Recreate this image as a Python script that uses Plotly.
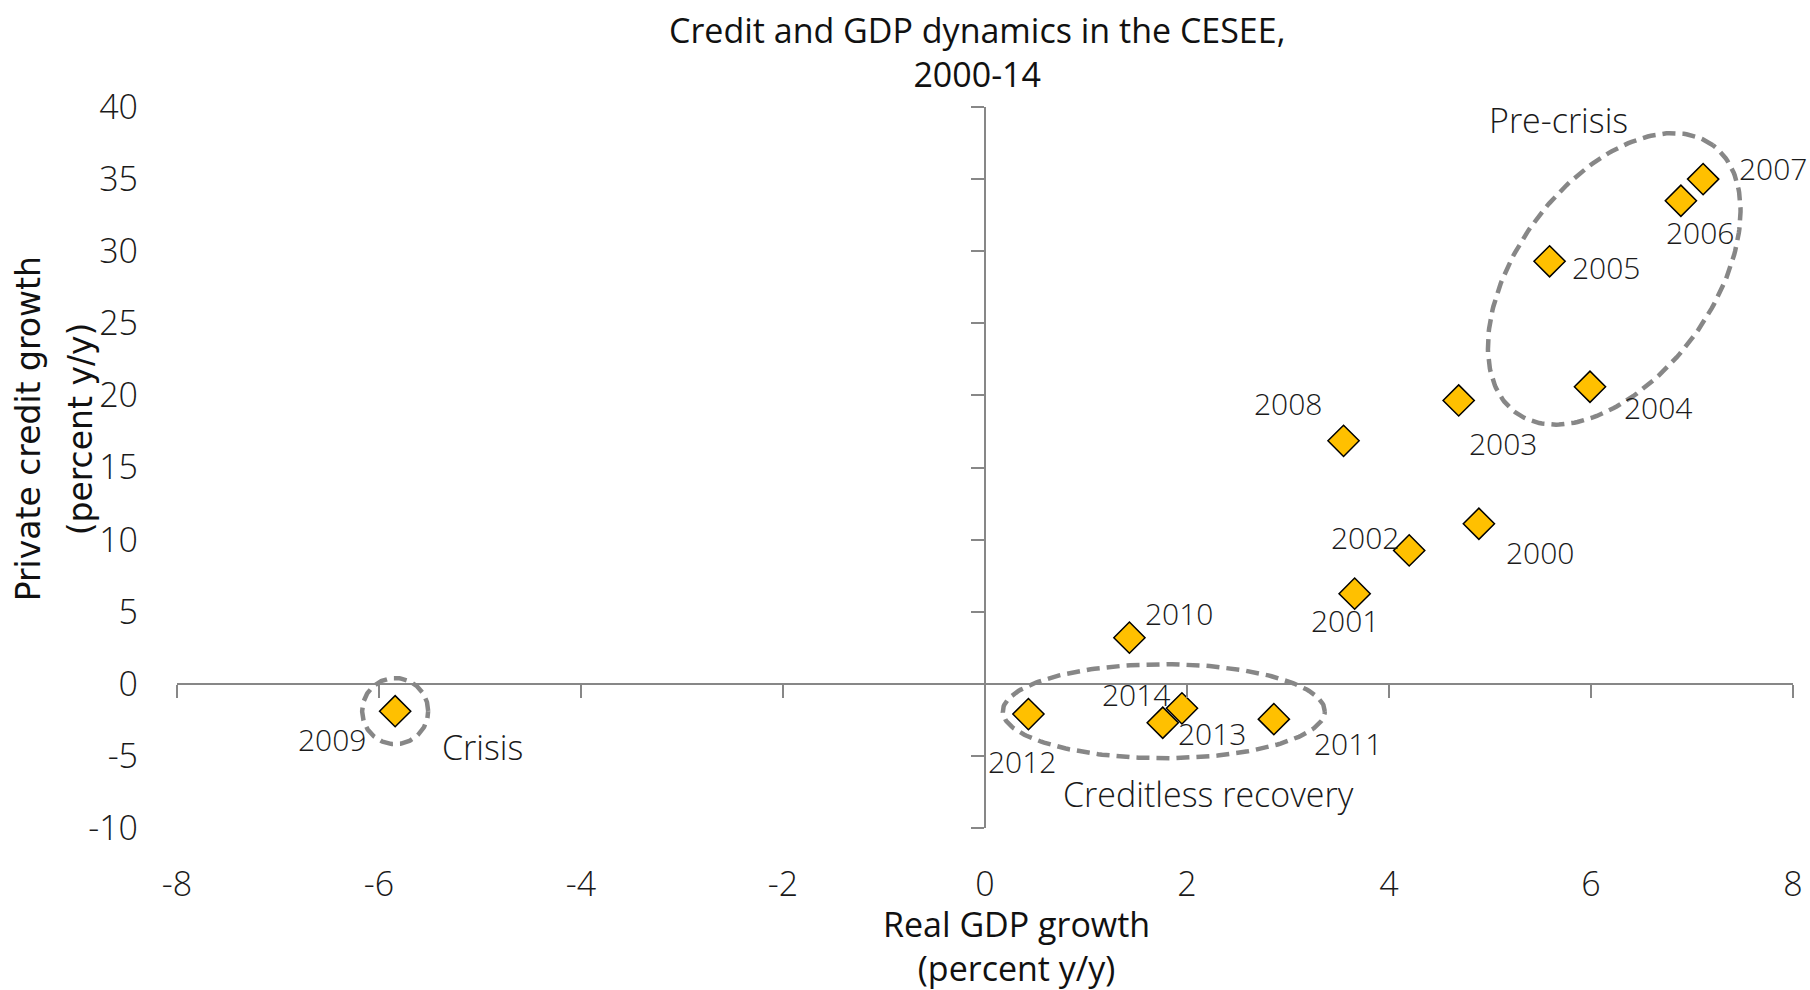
import numpy as np
import plotly.graph_objects as go

# ---------------- data ----------------
years = ["2000", "2001", "2002", "2003", "2004", "2005", "2006", "2007",
         "2008", "2009", "2010", "2011", "2012", "2013", "2014"]
gdp_growth = [4.89, 3.66, 4.20, 4.69, 5.99, 5.59, 6.89, 7.11,
              3.55, -5.84, 1.43, 2.86, 0.43, 1.76, 1.95]
credit_growth = [11.1, 6.25, 9.25, 19.65, 20.6, 29.3, 33.5, 35.0,
                 16.85, -1.9, 3.2, -2.45, -2.1, -2.7, -1.7]

x_ticks = [-8, -6, -4, -2, 0, 2, 4, 6, 8]
y_ticks = [-10, -5, 0, 5, 10, 15, 20, 25, 30, 35, 40]
x_tick_labels = ["-8", "-6", "-4", "-2", "0", "2", "4", "6", "8"]
y_tick_labels = ["-10", "-5", "0", "5", "10", "15", "20", "25", "30", "35", "40"]

# label offsets in pixels (right, down)
label_offsets = {
    "2000": (62, 29), "2001": (-9, 27), "2002": (-44, -13), "2003": (45, 43),
    "2004": (69, 21), "2005": (57, 6), "2006": (20, 32), "2007": (70, -11),
    "2008": (-55, -37), "2009": (-63, 28), "2010": (50, -24), "2011": (75, 24),
    "2012": (-6, 47), "2013": (50, 11), "2014": (-45, -14),
}

# group ellipses: name, centre (data), semi-axes (px), angle (deg), label pos (data)
groups = [
    ("Pre-crisis", 6.23, 28.08, 166, 98, 53.5, 5.68, 39.07),
    ("Creditless recovery", 1.77, -1.90, 161, 47, 0.0, 2.21, -7.62),
    ("Crisis", -5.84, -1.89, 33, 33, 0.0, -4.98, -4.35),
]

# ---------------- layout geometry ----------------
FIG_W, FIG_H = 1810, 990
L, R, T, B = 176.6, 1792.6, 107.4, 827.6
PW, PH = R - L, B - T
XR = [-8, 8]
YR = [-10, 40]
px_per_x = PW / (XR[1] - XR[0])
px_per_y = PH / (YR[1] - YR[0])


def paper_x(px):
    return (px - L) / PW


def paper_y(py):
    return (B - py) / PH


FONT = "Open Sans"
GRAY = "#878787"

fig = go.Figure()

# ellipses
for name, cx, cy, a, b, ang, lx, ly in groups:
    t = np.linspace(0, 2 * np.pi, 241)
    th = np.deg2rad(ang)
    dxp = a * np.cos(t) * np.cos(th) - b * np.sin(t) * np.sin(th)
    dyp = a * np.cos(t) * np.sin(th) + b * np.sin(t) * np.cos(th)
    fig.add_trace(go.Scatter(
        x=cx + dxp / px_per_x, y=cy + dyp / px_per_y, mode="lines",
        line=dict(color=GRAY, width=4.5, dash="13px,7px"),
        hoverinfo="skip", showlegend=False))
    fig.add_annotation(x=lx, y=ly, xref="x", yref="y", text=name,
                       showarrow=False, font=dict(family=FONT, size=34, color="#1a1a1a", weight=300))

# points
fig.add_trace(go.Scatter(
    x=gdp_growth, y=credit_growth, mode="markers", text=years,
    marker=dict(symbol="diamond", size=24, color="#FFC000",
                line=dict(color="#000000", width=1.5)),
    showlegend=False))

for yr, gx, cy in zip(years, gdp_growth, credit_growth):
    ox, oy = label_offsets[yr]
    fig.add_annotation(x=gx, y=cy, xref="x", yref="y", text=yr, showarrow=False,
                       xshift=ox, yshift=-oy,
                       font=dict(family=FONT, size=30, color="#1a1a1a", weight=300))

# invisible trace to create the zero-crossing axes
fig.add_trace(go.Scatter(x=gdp_growth, y=credit_growth, xaxis="x2", yaxis="y2",
                         mode="markers", marker=dict(opacity=0),
                         hoverinfo="skip", showlegend=False))

tickfont = dict(family=FONT, size=34, color="#1a1a1a", weight=300)

fig.update_layout(
    width=FIG_W, height=FIG_H,
    margin=dict(l=L, r=FIG_W - R, t=T, b=FIG_H - B, autoexpand=False),
    paper_bgcolor="white", plot_bgcolor="white",
    font=dict(family=FONT, color="#1a1a1a"),
    xaxis=dict(range=XR, tickvals=x_ticks, ticktext=x_tick_labels,
               showgrid=False, zeroline=False,
               showline=False, ticks="", tickfont=tickfont, ticklabelstandoff=33,
               fixedrange=True),
    yaxis=dict(range=YR, tickvals=y_ticks, ticktext=y_tick_labels,
               showgrid=False, zeroline=False,
               showline=False, ticks="", tickfont=tickfont, ticklabelstandoff=38,
               fixedrange=True),
    xaxis2=dict(range=XR, tickvals=x_ticks, overlaying="x", anchor="free",
                position=(0 - YR[0]) / (YR[1] - YR[0]), side="bottom",
                showline=True, linecolor=GRAY, linewidth=2,
                ticks="outside", ticklen=13, tickwidth=1.5, tickcolor=GRAY,
                showticklabels=False, showgrid=False, zeroline=False),
    yaxis2=dict(range=YR, tickvals=y_ticks, overlaying="y", anchor="free",
                position=(0 - XR[0]) / (XR[1] - XR[0]), side="left",
                showline=True, linecolor=GRAY, linewidth=2,
                ticks="outside", ticklen=13, tickwidth=1.5, tickcolor=GRAY,
                showticklabels=False, showgrid=False, zeroline=False),
)

title_font = dict(family=FONT, size=34, color="#111111")
fig.add_annotation(x=paper_x(977), y=paper_y(52), xref="paper", yref="paper",
                   text="Credit and GDP dynamics in the CESEE,<br>2000-14",
                   showarrow=False, xanchor="center", yanchor="middle",
                   font=title_font)

xt_font = dict(family=FONT, size=34, color="#111111")
fig.add_annotation(x=paper_x(1016), y=paper_y(945), xref="paper", yref="paper",
                   text="Real GDP growth<br>(percent y/y)",
                   showarrow=False, xanchor="center", yanchor="middle",
                   font=xt_font)

yt_font = dict(family="DejaVu Sans", size=33, color="#111111")
for txt, px in [("Private credit growth", 29), ("(percent y/y)", 81)]:
    fig.add_annotation(x=paper_x(px), y=paper_y(429), xref="paper", yref="paper",
                       text=txt, showarrow=False, xanchor="center", yanchor="middle",
                       textangle=-90, font=yt_font)

fig.write_html("out.html")
